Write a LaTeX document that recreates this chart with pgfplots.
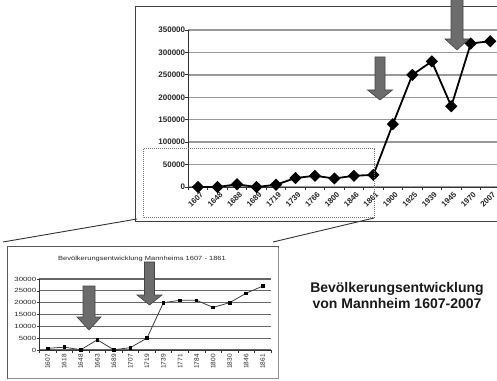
\documentclass[border=0pt]{standalone}
\usepackage{fontspec}
\setmainfont{Liberation Sans}
\usepackage{pgfplots}
\pgfplotsset{compat=1.18}
\definecolor{arrowgray}{HTML}{6C6C6C}
\definecolor{arrowedge}{HTML}{454545}
\begin{document}
\begin{tikzpicture}[x=1pt,y=1pt]
\useasboundingbox (0,0) rectangle (497,380);
\begin{scope}
\clip (0,0) rectangle (497,380);
% big chart frame
\draw[black!75, line width=1pt] (510,373) -- (135,373) -- (135,158) -- (510,158);
\begin{axis}[
  at={(188.3pt,193pt)}, anchor=south west,
  scale only axis, width=311.7pt, height=157pt,
  xmin=-0.5, xmax=15.5, ymin=0, ymax=350000,
  scaled y ticks=false,
  axis lines*=left,
  axis line style={black!80, line width=0.9pt},
  clip=false,
  xtick={0,...,15},
  xticklabels={1607,1648,1688,1689,1719,1739,1766,1800,1846,1861,1900,1925,1939,1945,1970,2007},
  ytick={0,50000,100000,150000,200000,250000,300000,350000},
  yticklabels={0,50000,100000,150000,200000,250000,300000,350000},
  minor xtick={-0.5,0.5,...,15.5},
  minor ytick={0,50000,100000,150000,200000,250000,300000,350000},
  major tick length=0pt, minor tick length=3.5pt, tick align=outside,
  minor tick style={black!80, line width=0.8pt},
  ymajorgrids, major grid style={black!40, line width=1.5pt},
  ticklabel style={font=\fontsize{8}{9}\selectfont\bfseries, text=black!85},
  xticklabel style={rotate=45, anchor=north east, inner sep=0pt, yshift=-4pt, xshift=-1.5pt, font=\fontsize{7.8}{8}\selectfont\bfseries},
  yticklabel style={anchor=east, xshift=-3pt, inner sep=0pt},
]
\addplot[black, line width=1.8pt, mark=square*, mark size=3.4pt, mark options={rotate=45, solid}] coordinates {
(0,0) (1,0) (2,6000) (3,0) (4,5000) (5,20000) (6,25000) (7,19000) (8,25000) (9,27000)
(10,140000) (11,250000) (12,280000) (13,180000) (14,320000) (15,325000)};
\end{axis}
% dotted zoom rectangle
\draw[black!55, line width=1pt, densely dotted] (143,231) rectangle (374,162);
% connectors
\draw[black!80, line width=0.9pt] (3,138) -- (137,161);
\draw[black!80, line width=0.9pt] (273,138) -- (374,162);
% big arrows
\draw[arrowedge, fill=arrowgray, line width=0.6pt] (375,323) -- (375,290) -- (367.5,290) -- (380,280) -- (392.5,290) -- (385,290) -- (385,323) -- cycle;
\draw[arrowedge, fill=arrowgray, line width=0.6pt] (451,390) -- (451,341) -- (445,341) -- (457,330) -- (469,341) -- (463,341) -- (463,390) -- cycle;
% small chart frame
\draw[black!65, line width=1pt, fill=white] (7,133) rectangle (278,2);
\draw[black!45, line width=1.2pt] (8,1.2) -- (278.8,1.2) -- (278.8,132);
\node[anchor=base, inner sep=0pt, text=black!85] at (142,120) {\scalebox{1.25}[1]{\fontsize{6}{7}\selectfont Bevölkerungsentwicklung Mannheims 1607 - 1861}};
\begin{axis}[
  at={(39.4pt,30pt)}, anchor=south west,
  scale only axis, width=231.6pt, height=71pt,
  xmin=-0.5, xmax=13.5, ymin=0, ymax=30000,
  scaled y ticks=false,
  axis lines*=left,
  axis line style={black!80, line width=0.7pt},
  clip=false,
  xtick={0,...,13},
  xticklabels={1607,1618,1648,1663,1689,1707,1719,1739,1771,1784,1800,1830,1846,1861},
  ytick={0,5000,10000,15000,20000,25000,30000},
  yticklabels={0,5000,10000,15000,20000,25000,30000},
  minor xtick={-0.5,0.5,...,13.5},
  minor ytick={0,5000,10000,15000,20000,25000,30000},
  major tick length=0pt, minor tick length=2.5pt, tick align=outside,
  minor tick style={black!80, line width=0.6pt},
  ymajorgrids, major grid style={black!60, line width=1.1pt},
  ticklabel style={font=\fontsize{6}{7}\selectfont, text=black!85},
  xticklabel style={rotate=90, anchor=east, inner sep=0pt, xshift=-4pt, font=\fontsize{6.5}{7}\selectfont},
  yticklabel style={anchor=east, xshift=-3pt, inner sep=0pt, xscale=1.3},
]
\addplot[black!75, line width=0.8pt, mark=square*, mark size=1.3pt, mark options={black, solid}] coordinates {
(0,700) (1,1200) (2,100) (3,4300) (4,100) (5,1000) (6,5000) (7,20000) (8,21000) (9,21000)
(10,18000) (11,20000) (12,24000) (13,27000)};
\end{axis}
% small arrows
\draw[arrowedge, fill=arrowgray, line width=0.6pt] (83,94) -- (83,63) -- (77,63) -- (89,50) -- (101,63) -- (95,63) -- (95,94) -- cycle;
\draw[arrowedge, fill=arrowgray, line width=0.6pt] (144.5,118) -- (144.5,85) -- (137,85) -- (149.5,75) -- (162,85) -- (154.5,85) -- (154.5,118) -- cycle;
% caption text
\node[anchor=base, inner sep=0pt, font=\fontsize{14}{16}\selectfont\bfseries, text=black!90] at (397,88) {Bevölkerungsentwicklung};
\node[anchor=base, inner sep=0pt, font=\fontsize{14}{16}\selectfont\bfseries, text=black!90] at (397,72) {von Mannheim 1607-2007};
\end{scope}
\end{tikzpicture}
\end{document}
